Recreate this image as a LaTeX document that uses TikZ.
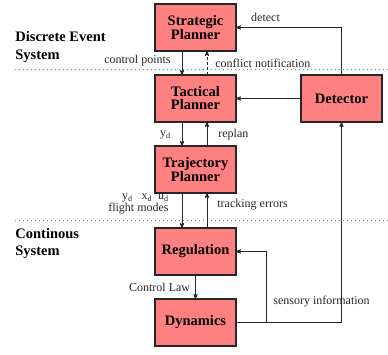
\documentclass[tikz,border=0pt]{standalone}
\usepackage{fontspec}
\setmainfont{Liberation Serif}
\usetikzlibrary{arrows,positioning}

\begin{document}
\begin{tikzpicture}[->,>=stealth',line width=0.8pt,draw=black!85,node distance=24pt,
  block/.style={rectangle,draw=black!85,fill=red!50,line width=1.1pt,
  minimum width=81pt,minimum height=47pt,outer sep=0pt,align=center,
  font=\fontsize{14.5}{13}\selectfont\bfseries},
  lbl/.style={font=\fontsize{12}{12}\selectfont,inner sep=1pt,align=right,text=black!85},
  sec/.style={font=\fontsize{14.5}{17.5}\selectfont\bfseries,align=left,
  inner sep=0pt,anchor=west},
  sep/.style={-,gray,line width=0.6pt,dash pattern=on 0.8pt off 3.2pt}]

  \node[block] (SP) at (0,0) {Strategic\\Planner};
  \useasboundingbox (-195.5pt,27.5pt) rectangle (192.5pt,-326.5pt);
  \node[block] (TP) [below=of SP] {Tactical\\Planner};
  \node[block] (DT) [right=65pt of TP] {Detector};
  \node[block] (TJ) [below=of TP] {Trajectory\\Planner};
  \node[block] (RG) [below=35pt of TJ] {Regulation};
  \node[block] (DY) [below=of RG] {Dynamics};

  % levels
  \draw[sep] (-180.5pt,-41.5pt) -- (192.5pt,-41.5pt);
  \draw[sep] (-180.5pt,-192.5pt) -- (192.5pt,-192.5pt);
  \node[sec] (des) at (-180.5pt,-19.5pt) {Discrete Event\\System};
  \node[sec] (cs) at (-180.5pt,-216pt) {Continous\\System};

  % planner chain
  \draw ([xshift=-13.5pt]SP.south) -- node[lbl,left=10pt,pos=0.38] {control points}
    ([xshift=-13.5pt]TP.north);
  \draw[dash pattern=on 3pt off 2pt] ([xshift=11.5pt]TP.north)
    -- node[lbl,right=7pt,pos=0.5] {conflict notification} ([xshift=11.5pt]SP.south);
  \draw ([xshift=-13.5pt]TP.south) -- node[lbl,left=10pt,pos=0.54] {y\textsubscript{d}}
    ([xshift=-13.5pt]TJ.north);
  \draw ([xshift=11.5pt]TJ.north) -- node[lbl,right=10pt,pos=0.46] {replan}
    ([xshift=11.5pt]TP.south);
  \draw ([xshift=-13.5pt]TJ.south) -- node[lbl,left=12pt,pos=0.31]
    {y\textsubscript{d}~~~x\textsubscript{d}~~u\textsubscript{d}\\flight modes}
    ([xshift=-13.5pt]RG.north);
  \draw ([xshift=11.5pt]RG.north) -- node[lbl,right=9pt,pos=0.66] {tracking errors}
    ([xshift=11.5pt]TJ.south);
  \draw (RG) -- node[lbl,left=4pt] {Control Law} (DY);

  % feedback
  \draw (DT.north) |- node[lbl,above=4pt,pos=0.86] {detect} (SP.east);
  \draw (DT) -- (TP);
  \draw (DY.east) -| (DT.south);
  \coordinate (br) at ([xshift=30pt]DY.east);
  \draw (br) |- node[lbl,right=6pt,pos=0.15] {sensory information} (RG.east);

\end{tikzpicture}
\end{document}
